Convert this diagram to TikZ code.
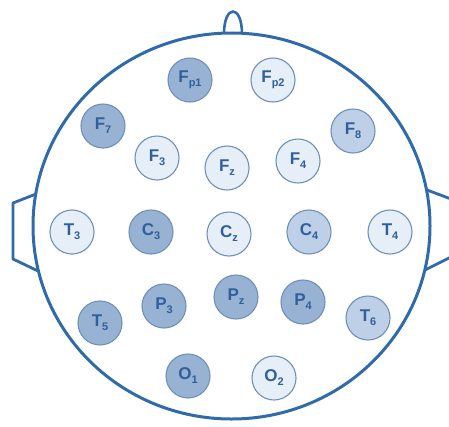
\documentclass[tikz,border=0pt]{standalone}
\usepackage{fontspec}
\setmainfont{Liberation Sans}
\definecolor{headc}{HTML}{2F6BAA}
\definecolor{rimc}{HTML}{6F90B8}
\definecolor{txtc}{HTML}{30609A}
\definecolor{darkf}{HTML}{97B2D3}
\definecolor{midf}{HTML}{BDD0E7}
\definecolor{lightf}{HTML}{E6EEF8}
\newcommand{\elab}[2]{#1\raisebox{-0.45ex}{\fontsize{11}{11}\selectfont #2}}
\tikzset{
  elec/.style={circle, draw=rimc, line width=1.1pt, minimum size=44pt, inner sep=0pt,
    text=txtc, font=\fontsize{17}{17}\selectfont\bfseries},
  edark/.style={elec, fill=darkf},
  emid/.style={elec, fill=midf},
  elight/.style={elec, fill=lightf},
  headline/.style={draw=headc, line width=3pt, line join=round}
}
\begin{document}
\begin{tikzpicture}[x=1pt,y=-1pt]
\useasboundingbox (0,0) rectangle (449,426);
\clip (0,0) rectangle (449,426);
% head
\coordinate (hc) at (231.5,226);
\draw[headline] (hc) ellipse [x radius=198.5, y radius=193];
% nose
\coordinate (n1) at (224,34);
\coordinate (n2) at (242,34);
\draw[headline, line width=2.6pt] (n1) .. controls (224,4) and (242,4) .. (n2);
% ears
\coordinate (la) at (36,194);
\coordinate (lb) at (13,203);
\coordinate (lc) at (13,259);
\coordinate (ld) at (38,271);
\draw[headline, line width=2.8pt] (la) -- (lb) -- (lc) -- (ld);
\coordinate (ra) at (427,190);
\coordinate (rb) at (451,199);
\coordinate (rc) at (451,257);
\coordinate (rd) at (425,270);
\draw[headline, line width=2.8pt] (ra) -- (rb) -- (rc) -- (rd);
% electrodes
\node[edark]  (fp1) at (190,80)  {\elab{F}{p1}};
\node[elight] (fp2) at (273,80)  {\elab{F}{p2}};
\node[edark]  (f7)  at (103,126) {\elab{F}{7}};
\node[elight] (f3)  at (157,158) {\elab{F}{3}};
\node[elight] (fz)  at (227,168) {\elab{F}{z}};
\node[elight] (f4)  at (298,161) {\elab{F}{4}};
\node[emid]   (f8)  at (353,131) {\elab{F}{8}};
\node[elight] (t3)  at (72,232)  {\elab{T}{3}};
\node[edark]  (c3)  at (151,232) {\elab{C}{3}};
\node[elight] (cz)  at (229,234) {\elab{C}{z}};
\node[emid]   (c4)  at (309,232) {\elab{C}{4}};
\node[elight] (t4)  at (390,232) {\elab{T}{4}};
\node[edark]  (t5)  at (100,323) {\elab{T}{5}};
\node[edark]  (p3)  at (164,306) {\elab{P}{3}};
\node[edark]  (pz)  at (236,297) {\elab{P}{z}};
\node[edark]  (p4)  at (303,302) {\elab{P}{4}};
\node[emid]   (t6)  at (368,318) {\elab{T}{6}};
\node[edark]  (o1)  at (188,376) {\elab{O}{1}};
\node[elight] (o2)  at (274,378) {\elab{O}{2}};
\end{tikzpicture}
\end{document}
